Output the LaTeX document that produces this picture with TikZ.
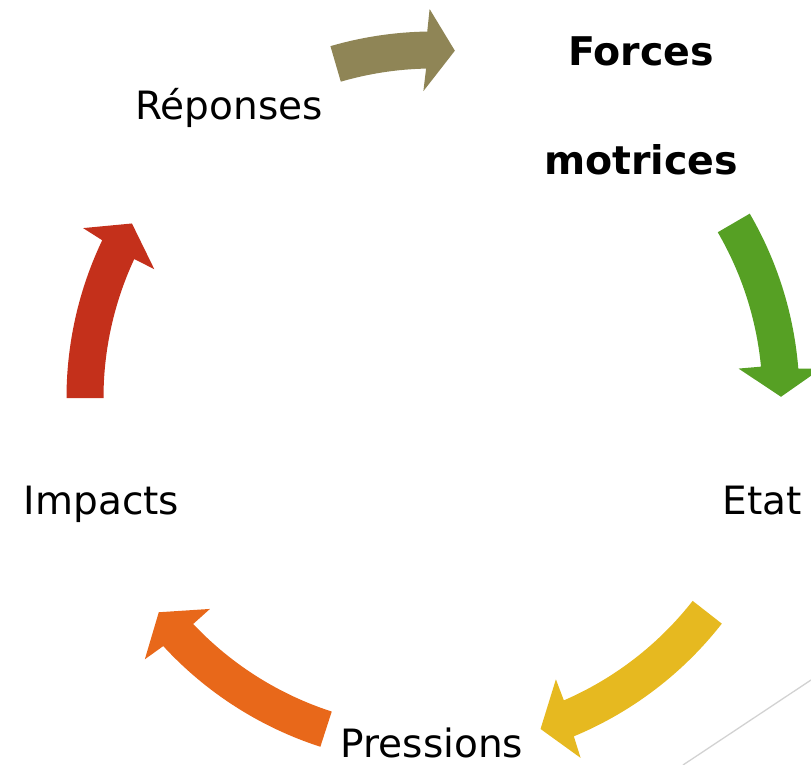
\documentclass[tikz,border=0pt]{standalone}
\usepackage{fontspec}
\setmainfont{DejaVu Sans}
\usetikzlibrary{calc}
\definecolor{arrOlive}{RGB}{143,133,86}
\definecolor{arrGreen}{RGB}{86,160,36}
\definecolor{arrYellow}{RGB}{230,185,32}
\definecolor{arrOrange}{RGB}{232,104,26}
\definecolor{arrRed}{RGB}{196,48,27}
\definecolor{decoGrey}{RGB}{210,210,210}
% #1 colour, #2 tail angle, #3 outer shaft end, #4 outer barb, #5 tip, #6 inner barb, #7 inner shaft end
\newcommand{\cyclearrow}[7]{%
  \fill[#1] ($(C)+(#2:366.5pt)$) arc[start angle=#2, end angle=#3, radius=366.5pt]
    -- ($(C)+(#4:389pt)$) -- ($(C)+(#5:348pt)$) -- ($(C)+(#6:307pt)$)
    -- ($(C)+(#7:329.5pt)$) arc[start angle=#7, end angle=#2, radius=329.5pt] -- cycle;}
\tikzset{
  lbl/.style={inner sep=0pt, anchor=base, font=\fontsize{39}{47}\selectfont},
  lblbold/.style={inner sep=0pt, anchor=base, font=\fontsize{39.5}{47}\selectfont\bfseries}
}
\begin{document}
\begin{tikzpicture}
\useasboundingbox (0pt,0pt) rectangle (811pt,-765pt);
\clip (0pt,0pt) rectangle (811pt,-765pt);
\coordinate (C) at (433pt,-398pt);
% decorative grey line
\coordinate (g1) at (683pt,-765pt);
\coordinate (g2) at (811pt,-680pt);
\draw[decoGrey, line width=1.3pt] (g1) -- (g2);
% cycle arrows
\cyclearrow{arrOlive}{106.25}{90.9}{90.5}{86.4}{91.8}{91.2}
\cyclearrow{arrGreen}{30.2}{4.6}{4.3}{0.2}{5.5}{5.46}
\cyclearrow{arrYellow}{-38}{-67.4}{-67.7}{-72}{-66.4}{-66.6}
\cyclearrow{arrOrange}{252.1}{222.6}{222.2}{218}{223.4}{223.3}
\cyclearrow{arrRed}{180}{154.5}{154.1}{149.9}{155.2}{155.05}
% labels
\node[lbl] (reponses) at (229pt,-120pt) {Réponses};
\node[lblbold] (forces) at (641pt,-65.7pt) {Forces};
\node[lblbold] (motrices) at (641pt,-174.3pt) {motrices};
\node[lbl, anchor=base west] (etat) at (722.5pt,-514.3pt) {Etat};
\node[lbl] (impacts) at (101.5pt,-514.3pt) {Impacts};
\node[lbl] (pressions) at (432pt,-757pt) {Pressions};
\end{tikzpicture}
\end{document}
